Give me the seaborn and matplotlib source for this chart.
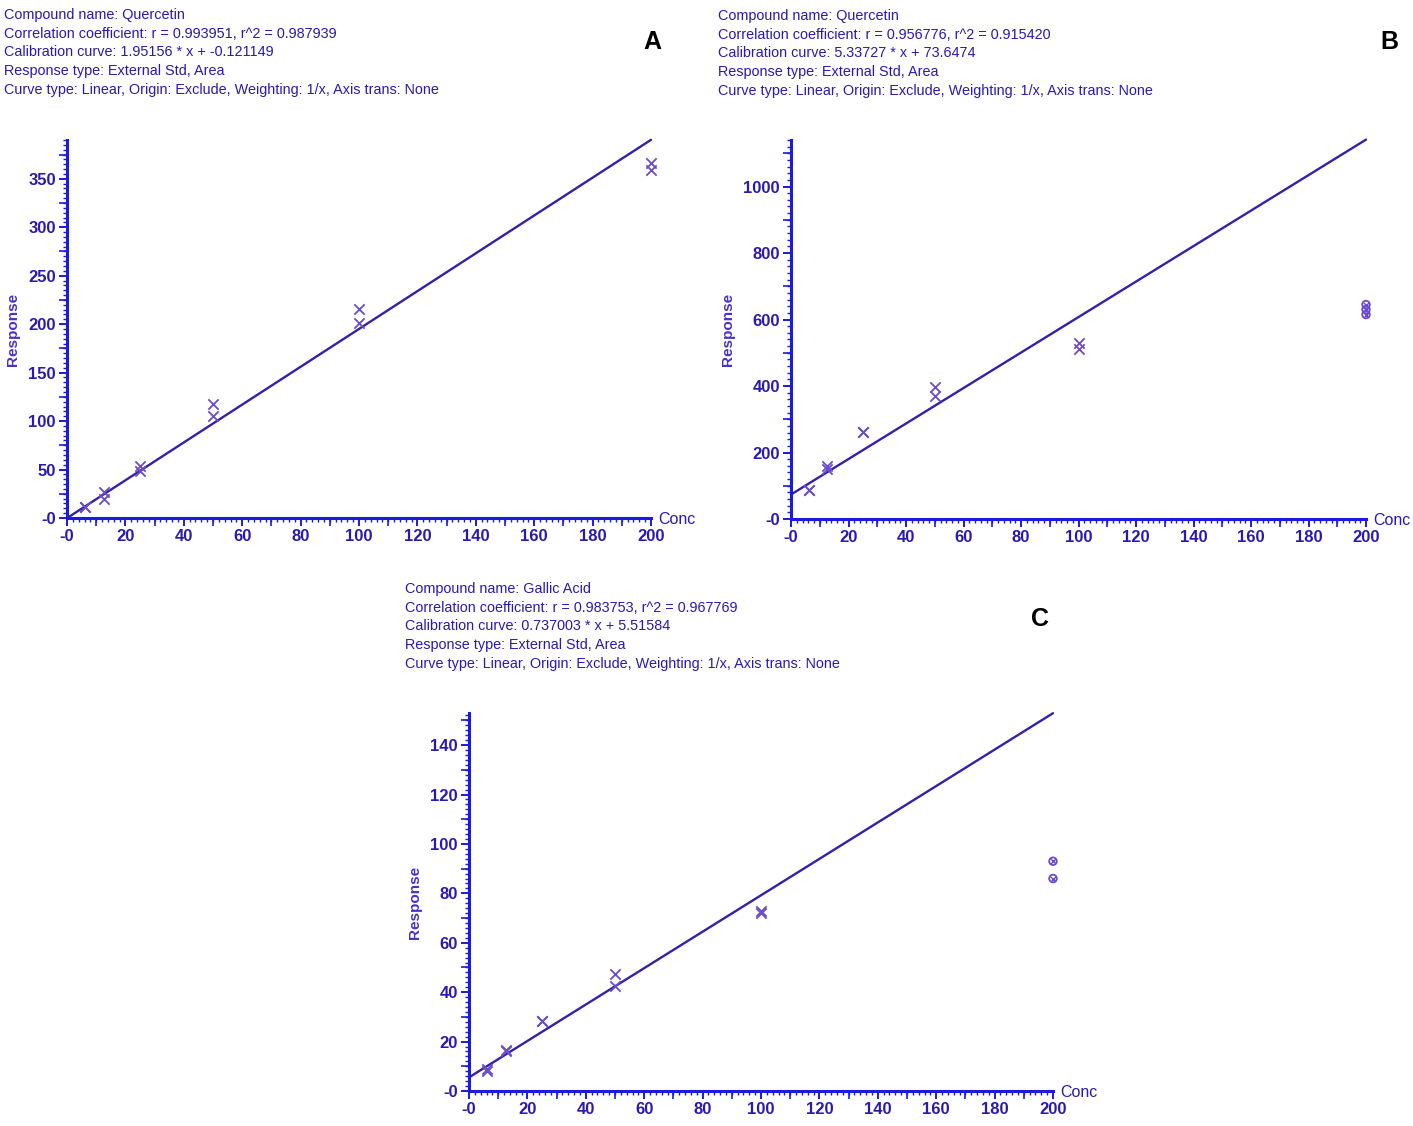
import matplotlib
matplotlib.use("Agg")
import matplotlib.pyplot as plt
import numpy as np
import pandas as pd
import seaborn as sns
from matplotlib.ticker import MultipleLocator

sns.set_style("white")
plt.rcParams["font.family"] = ["Liberation Sans", "DejaVu Sans"]

# calibration data
conc_a = [6.25, 6.25, 12.5, 12.5, 25, 25, 50, 50, 100, 100, 200, 200]
resp_a = [11, 11, 27, 20, 54, 49, 118, 105, 216, 201, 366, 359]

conc_b = [6.25, 6.25, 12.5, 12.5, 25, 25, 50, 50, 100, 100]
resp_b = [88, 88, 158, 150, 262, 262, 397, 370, 528, 510]
excl_conc_b = [200, 200, 200]
excl_resp_b = [645, 630, 615]

conc_c = [6.25, 6.25, 12.5, 12.5, 25, 25, 50, 50, 100, 100]
resp_c = [9, 8, 16.5, 16, 28.5, 28.5, 47.5, 42.5, 73, 72]
excl_conc_c = [200, 200]
excl_resp_c = [93, 86]

slopes = [1.95156, 5.33727, 0.737003]
intercepts = [-0.121149, 73.6474, 5.51584]

headers = [
    ["Compound name: Quercetin",
     "Correlation coefficient: r = 0.993951, r^2 = 0.987939",
     "Calibration curve: 1.95156 * x + -0.121149",
     "Response type: External Std, Area",
     "Curve type: Linear, Origin: Exclude, Weighting: 1/x, Axis trans: None"],
    ["Compound name: Quercetin",
     "Correlation coefficient: r = 0.956776, r^2 = 0.915420",
     "Calibration curve: 5.33727 * x + 73.6474",
     "Response type: External Std, Area",
     "Curve type: Linear, Origin: Exclude, Weighting: 1/x, Axis trans: None"],
    ["Compound name: Gallic Acid",
     "Correlation coefficient: r = 0.983753, r^2 = 0.967769",
     "Calibration curve: 0.737003 * x + 5.51584",
     "Response type: External Std, Area",
     "Curve type: Linear, Origin: Exclude, Weighting: 1/x, Axis trans: None"],
]
panel_letters = ["A", "B", "C"]

x_ticks = [0, 20, 40, 60, 80, 100, 120, 140, 160, 180, 200]
y_ticks_a = [0, 50, 100, 150, 200, 250, 300, 350]
y_ticks_b = [0, 200, 400, 600, 800, 1000]
y_ticks_c = [0, 20, 40, 60, 80, 100, 120, 140]

W, H = 1413, 1126
TXT = "#2a1ab0"
AXC = "#1a1ae0"
MRK = "#6a4ccc"
LINE = "#3520a8"

fig = plt.figure(figsize=(W / 100, H / 100), dpi=100)


def px_axes(x0, y0, x1, y1):
    return fig.add_axes([x0 / W, 1 - y1 / H, (x1 - x0) / W, (y1 - y0) / H])


def style_axis(ax, ymax, yticks, ymed, ymin):
    ax.set_xlim(0, 200)
    ax.set_ylim(0, ymax)
    for s in ["top", "right"]:
        ax.spines[s].set_visible(False)
    for s in ["left", "bottom"]:
        ax.spines[s].set_color(AXC)
        ax.spines[s].set_linewidth(2.2)
    ax.set_xticks(x_ticks)
    ax.set_xticklabels(["-0" if v == 0 else str(v) for v in x_ticks])
    ax.set_yticks(yticks)
    ax.set_yticklabels(["-0" if v == 0 else str(v) for v in yticks])
    ax.xaxis.set_minor_locator(MultipleLocator(2))
    ax.yaxis.set_minor_locator(MultipleLocator(ymin))
    ax.tick_params(which="major", direction="out", length=6, width=1.4, color=AXC,
                   labelcolor=TXT, labelsize=12, pad=2, bottom=True, left=True)
    ax.tick_params(which="minor", direction="out", length=3, width=1.0, color=AXC,
                   bottom=True, left=True)
    for lab in ax.get_xticklabels() + ax.get_yticklabels():
        lab.set_fontweight("bold")
    # medium ticks
    sx = ax.secondary_xaxis("bottom")
    sx.set_xticks([v for v in range(10, 200, 20)])
    sx.tick_params(direction="out", length=5.5, width=1.2, color=AXC, labelbottom=False)
    sx.spines["bottom"].set_visible(False)
    sy = ax.secondary_yaxis("left")
    sy.set_yticks(list(np.arange(ymed, ymax, yticks[1])))
    sy.tick_params(direction="out", length=5.5, width=1.2, color=AXC, labelleft=False)
    sy.spines["left"].set_visible(False)
    ax.set_xlabel("")
    ax.set_ylabel("Response", color="#4a30c8", fontsize=11, fontweight="bold", labelpad=6)
    ax.text(1.012, -0.004, "Conc", transform=ax.transAxes, color=TXT, fontsize=11.5,
            ha="left", va="center")


def draw_panel(ax, conc, resp, slope, icpt, excl_c=None, excl_r=None):
    xl = np.array([0, 200])
    fit = pd.DataFrame({"x": xl, "y": slope * xl + icpt})
    sns.lineplot(data=fit, x="x", y="y", ax=ax, color=LINE, lw=1.7, clip_on=False)
    pts = pd.DataFrame({"x": conc, "y": resp})
    sns.scatterplot(data=pts, x="x", y="y", ax=ax, marker="x", s=55, color=MRK,
                    linewidth=1.3, clip_on=False, zorder=4)
    if excl_c is not None:
        ex = pd.DataFrame({"x": excl_c, "y": excl_r})
        sns.scatterplot(data=ex, x="x", y="y", ax=ax, marker="o", s=30,
                        facecolor="none", edgecolor=MRK, linewidth=1.3, clip_on=False, zorder=4)
        sns.scatterplot(data=ex, x="x", y="y", ax=ax, marker="x", s=14, color=MRK,
                        linewidth=1.0, clip_on=False, zorder=5)


ax_a = px_axes(67, 140, 651, 518)
draw_panel(ax_a, conc_a, resp_a, slopes[0], intercepts[0])
style_axis(ax_a, 390, y_ticks_a, 25, 5)

ax_b = px_axes(791, 140, 1366, 519)
draw_panel(ax_b, conc_b, resp_b, slopes[1], intercepts[1], excl_conc_b, excl_resp_b)
style_axis(ax_b, 1140, y_ticks_b, 100, 20)

ax_c = px_axes(469, 713, 1053, 1091)
draw_panel(ax_c, conc_c, resp_c, slopes[2], intercepts[2], excl_conc_c, excl_resp_c)
style_axis(ax_c, 153, y_ticks_c, 10, 2)

# header text blocks
starts = [(4, 15), (718, 16), (405, 589)]
for (x0, y0), lines in zip(starts, headers):
    for i, line in enumerate(lines):
        fig.text(x0 / W, 1 - (y0 + i * 18.7) / H, line, color=TXT, fontsize=10.4,
                 ha="left", va="center")

letter_pos = [(652, 42), (1389, 42), (1040, 619)]
for (lx, ly), letter in zip(letter_pos, panel_letters):
    fig.text(lx / W, 1 - ly / H, letter, color="black", fontsize=18, fontweight="bold",
             ha="center", va="center")

fig.savefig("out.png", dpi=100)
